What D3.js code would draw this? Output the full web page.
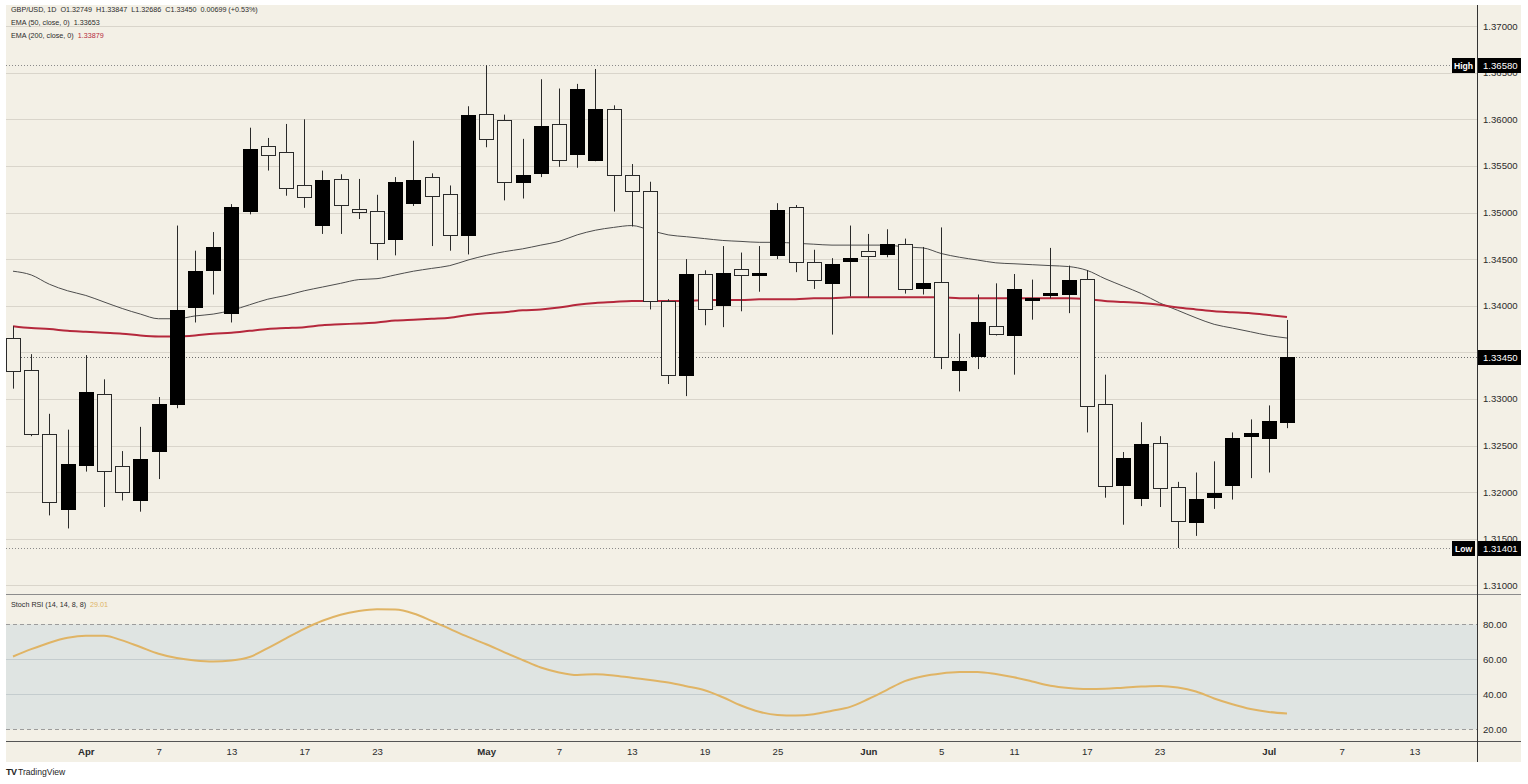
<!DOCTYPE html>
<html>
<head>
<meta charset="utf-8">
<script src="https://cdn.jsdelivr.net/npm/d3@7"></script>
<style>
html, body { margin: 0; padding: 0; background: #ffffff; }
svg { display: block; font-family: "Liberation Sans", Arial, sans-serif; }
</style>
</head>
<body>
<svg id="chart" width="1528" height="784"></svg>
<script>
"use strict";

// daily bars, GBP/USD
const dates = [
    "2026-03-26","2026-03-27","2026-03-30","2026-03-31",
    "2026-04-01","2026-04-02","2026-04-03","2026-04-06","2026-04-07","2026-04-08","2026-04-09","2026-04-10",
    "2026-04-13","2026-04-14","2026-04-15","2026-04-16","2026-04-17","2026-04-20","2026-04-21","2026-04-22",
    "2026-04-23","2026-04-24","2026-04-27","2026-04-28","2026-04-29","2026-04-30",
    "2026-05-01","2026-05-04","2026-05-05","2026-05-06","2026-05-07","2026-05-08","2026-05-11","2026-05-12",
    "2026-05-13","2026-05-14","2026-05-15","2026-05-18","2026-05-19","2026-05-20","2026-05-21","2026-05-22",
    "2026-05-25","2026-05-26","2026-05-27","2026-05-28","2026-05-29",
    "2026-06-01","2026-06-02","2026-06-03","2026-06-04","2026-06-05","2026-06-08","2026-06-09","2026-06-10",
    "2026-06-11","2026-06-12","2026-06-15","2026-06-16","2026-06-17","2026-06-18","2026-06-19","2026-06-22",
    "2026-06-23","2026-06-24","2026-06-25","2026-06-26","2026-06-29","2026-06-30",
    "2026-07-01","2026-07-02"
];
const open = [
    1.3365, 1.3331, 1.3262, 1.3182, 1.3229, 1.3305, 1.3228, 1.3192, 1.3244, 1.3294,
    1.3398, 1.3438, 1.3392, 1.3502, 1.3571, 1.3565, 1.3530, 1.3487, 1.3536, 1.3504,
    1.3502, 1.3472, 1.3510, 1.3538, 1.3520, 1.3476, 1.3606, 1.3599, 1.3533, 1.3543,
    1.3595, 1.3563, 1.3556, 1.3611, 1.3540, 1.3523, 1.3405, 1.3326, 1.3434, 1.3401,
    1.3439, 1.3433, 1.3455, 1.3506, 1.3447, 1.3425, 1.3448, 1.3459, 1.3455, 1.3466,
    1.3419, 1.3425, 1.3331, 1.3346, 1.3378, 1.3369, 1.3406, 1.3412, 1.3413, 1.3429,
    1.3295, 1.3208, 1.3194, 1.3253, 1.3205, 1.3168, 1.3195, 1.3208, 1.3260, 1.3258,
    1.32749
];
const high = [
    1.3378, 1.3348, 1.3284, 1.3267, 1.3347, 1.3321, 1.3244, 1.3270, 1.3302, 1.3486,
    1.3459, 1.3479, 1.3509, 1.3591, 1.3580, 1.3595, 1.3600, 1.3545, 1.3541, 1.3536,
    1.3519, 1.3538, 1.3577, 1.3542, 1.3529, 1.3614, 1.3658, 1.3605, 1.3579, 1.3643,
    1.3633, 1.3638, 1.3654, 1.3615, 1.3552, 1.3533, 1.3407, 1.3450, 1.3438, 1.3464,
    1.3457, 1.3464, 1.3510, 1.3508, 1.3460, 1.3451, 1.3486, 1.3477, 1.3482, 1.3472,
    1.3463, 1.3484, 1.3370, 1.3412, 1.3424, 1.3434, 1.3428, 1.3462, 1.3443, 1.3438,
    1.3326, 1.3243, 1.3275, 1.3260, 1.3211, 1.3221, 1.3233, 1.3264, 1.3278, 1.3293,
    1.33847
];
const low = [
    1.3311, 1.3260, 1.3175, 1.3161, 1.3222, 1.3184, 1.3191, 1.3179, 1.3214, 1.3290,
    1.3382, 1.3412, 1.3382, 1.3498, 1.3545, 1.3518, 1.3505, 1.3477, 1.3477, 1.3493,
    1.3449, 1.3454, 1.3507, 1.3464, 1.3459, 1.3455, 1.3570, 1.3513, 1.3515, 1.3538,
    1.3549, 1.3548, 1.3555, 1.3501, 1.3485, 1.3396, 1.3316, 1.3303, 1.3379, 1.3377,
    1.3394, 1.3415, 1.3450, 1.3436, 1.3418, 1.3369, 1.3410, 1.3409, 1.3452, 1.3413,
    1.3412, 1.3332, 1.3308, 1.3332, 1.3368, 1.3326, 1.3385, 1.3408, 1.3392, 1.3264,
    1.3194, 1.3165, 1.3185, 1.3184, 1.3140, 1.3153, 1.3182, 1.3192, 1.3215, 1.3221,
    1.32686
];
const close = [
    1.3330, 1.3262, 1.3189, 1.3230, 1.3307, 1.3222, 1.3200, 1.3236, 1.3294, 1.3395,
    1.3437, 1.3463, 1.3506, 1.3568, 1.3561, 1.3526, 1.3517, 1.3535, 1.3508, 1.3501,
    1.3468, 1.3533, 1.3535, 1.3518, 1.3476, 1.3605, 1.3579, 1.3532, 1.3540, 1.3593,
    1.3556, 1.3633, 1.3611, 1.3540, 1.3523, 1.3405, 1.3326, 1.3434, 1.3396, 1.3435,
    1.3433, 1.3435, 1.3503, 1.3447, 1.3428, 1.3445, 1.3451, 1.3454, 1.3466, 1.3418,
    1.3424, 1.3344, 1.3341, 1.3382, 1.3369, 1.3418, 1.3408, 1.3414, 1.3428, 1.3293,
    1.3207, 1.3237, 1.3252, 1.3205, 1.3169, 1.3193, 1.3199, 1.3258, 1.3263, 1.3276,
    1.33450
];
const ema50 = [
    1.3437, 1.3433, 1.3423, 1.3416, 1.3411, 1.3404, 1.3397, 1.3391, 1.3386, 1.3386,
    1.3389, 1.3391, 1.3395, 1.3401, 1.3407, 1.3411, 1.3416, 1.3420, 1.3424, 1.3428,
    1.3429, 1.3433, 1.3437, 1.3440, 1.3443, 1.3449, 1.3454, 1.3458, 1.3461, 1.3465,
    1.3469, 1.3476, 1.3481, 1.3484, 1.3486, 1.3481, 1.3476, 1.3474, 1.3472, 1.3470,
    1.3469, 1.3468, 1.3468, 1.3467, 1.3466, 1.3465, 1.3465, 1.3465, 1.3465, 1.3463,
    1.3462, 1.3456, 1.3452, 1.3449, 1.3446, 1.3445, 1.3444, 1.3443, 1.3442, 1.3438,
    1.3429, 1.3421, 1.3413, 1.3403, 1.3395, 1.3387, 1.3380, 1.3376, 1.3372, 1.3368,
    1.33653
];
const ema200 = [
    1.3378, 1.3376, 1.3375, 1.3373, 1.3372, 1.3371, 1.3370, 1.3368, 1.3367, 1.3367,
    1.3368, 1.3370, 1.3371, 1.3373, 1.3375, 1.3376, 1.3377, 1.3379, 1.3380, 1.3381,
    1.3382, 1.3384, 1.3385, 1.3386, 1.3387, 1.3390, 1.3392, 1.3393, 1.3395, 1.3396,
    1.3398, 1.3401, 1.3403, 1.3404, 1.3405, 1.3405, 1.3405, 1.3405, 1.3406, 1.3406,
    1.3406, 1.3407, 1.3407, 1.3407, 1.3408, 1.3408, 1.3409, 1.3409, 1.3409, 1.3409,
    1.3409, 1.3409, 1.3408, 1.3408, 1.3408, 1.3408, 1.3408, 1.3408, 1.3408, 1.3407,
    1.3405, 1.3404, 1.3403, 1.3401, 1.3398, 1.3396, 1.3394, 1.3393, 1.3392, 1.3390,
    1.33879
];
const stochK = [
    61.6, 65.8, 69.5, 72.3, 73.5, 73.4, 70.8, 67.0, 63.2, 60.7,
    59.3, 58.7, 59.3, 61.3, 66.4, 72.0, 77.4, 82.0, 85.5, 87.6,
    88.6, 88.4, 86.2, 82.0, 77.4, 72.8, 68.6, 64.0, 59.6, 55.3,
    52.5, 51.0, 51.5, 50.8, 49.4, 48.2, 46.7, 44.6, 42.3, 38.3,
    33.6, 30.0, 28.2, 27.9, 28.6, 30.6, 32.8, 37.3, 42.4, 47.5,
    50.3, 51.9, 52.7, 52.8, 51.6, 49.7, 47.3, 44.9, 43.6, 43.0,
    43.2, 43.8, 44.4, 44.8, 43.9, 41.6, 37.6, 34.3, 31.6, 29.9,
    29.01
];

const priceTicks = [1.31, 1.315, 1.32, 1.325, 1.33, 1.335, 1.34, 1.345, 1.35, 1.355, 1.36, 1.365, 1.37];
const stochTicks = [20, 40, 60, 80];
const timeTicks = [
    "2026-04-01","2026-04-07","2026-04-13","2026-04-17","2026-04-23",
    "2026-05-01","2026-05-07","2026-05-13","2026-05-19","2026-05-25",
    "2026-06-01","2026-06-05","2026-06-11","2026-06-17","2026-06-23",
    "2026-07-01","2026-07-07","2026-07-13"
];
const sessionHigh = 1.36580;
const sessionLow = 1.31401;
const lastPrice = 1.33450;

const BG = "#f3f0e6";
const GRID = "#d9d5cb";
const TEXT = "#2b2b2b";
const RED = "#b5283c";
const STOCH = "#e0b465";

const svg = d3.select("#chart");
const paneLeft = 6, axisX = 1477, paneRight = 1521, paneTop = 5;
const paneSep = 594, stochBottom = 741, timeBottom = 762;

const parse = d3.utcParse("%Y-%m-%d");
const start = parse(dates[0]);
const barIndex = s => d3.utcDay.range(start, parse(s)).filter(d => d.getUTCDay() % 6 !== 0).length;

const x = d3.scaleLinear().domain([-0.385, 80.44]).range([paneLeft, axisX]);
const y = d3.scaleLinear().domain([1.31, 1.37]).range([585.3, 26.1]);
const yS = d3.scaleLinear().domain([20, 80]).range([729.3, 624.3]);

const defs = svg.append("defs");
defs.append("clipPath").attr("id", "clipMain")
    .append("rect").attr("x", paneLeft).attr("y", paneTop).attr("width", axisX - paneLeft).attr("height", paneSep - paneTop);
defs.append("clipPath").attr("id", "clipStoch")
    .append("rect").attr("x", paneLeft).attr("y", paneSep + 1).attr("width", axisX - paneLeft).attr("height", stochBottom - paneSep - 1);

// background
svg.append("rect").attr("x", paneLeft).attr("y", paneTop).attr("width", paneRight - paneLeft).attr("height", timeBottom - paneTop).attr("fill", BG);

// price grid
svg.append("g").selectAll("line").data(priceTicks).join("line")
    .attr("x1", paneLeft).attr("x2", axisX)
    .attr("y1", d => Math.round(y(d)) + 0.5).attr("y2", d => Math.round(y(d)) + 0.5)
    .attr("stroke", GRID).attr("stroke-width", 1);

// high / low / last dotted lines
const refLines = [
    {v: sessionHigh, x2: 1452, c: "#8a8a8a"},
    {v: sessionLow, x2: 1452, c: "#8a8a8a"},
    {v: lastPrice, x2: axisX, c: "#6a6a6a"}
];
svg.append("g").selectAll("line").data(refLines).join("line")
    .attr("x1", paneLeft).attr("x2", d => d.x2)
    .attr("y1", d => Math.round(y(d.v)) + 0.5).attr("y2", d => Math.round(y(d.v)) + 0.5)
    .attr("stroke", d => d.c).attr("stroke-width", 1).attr("stroke-dasharray", "1,2");

const candles = dates.map((d, i) => ({i, o: open[i], h: high[i], l: low[i], c: close[i]}));

const main = svg.append("g").attr("clip-path", "url(#clipMain)");

// EMA lines
const emaLine = d3.line().x((d, i) => x(i)).y(d => y(d)).curve(d3.curveMonotoneX);
main.append("path").attr("d", emaLine(ema50)).attr("fill", "none").attr("stroke", "#4d4d4d").attr("stroke-width", 1);
main.append("path").attr("d", emaLine(ema200)).attr("fill", "none").attr("stroke", RED).attr("stroke-width", 2);

// candles: black = up, hollow = down
const cg = main.append("g").selectAll("g").data(candles).join("g");
cg.append("line")
    .attr("x1", d => Math.round(x(d.i)) + 0.5).attr("x2", d => Math.round(x(d.i)) + 0.5)
    .attr("y1", d => y(d.h)).attr("y2", d => y(d.l))
    .attr("stroke", "#2a2a2a").attr("stroke-width", 1);
cg.append("rect")
    .attr("x", d => Math.round(x(d.i)) - 6.5)
    .attr("width", 14)
    .attr("y", d => Math.round(y(Math.max(d.o, d.c))) + 0.5)
    .attr("height", d => Math.max(1, Math.round(Math.abs(y(d.o) - y(d.c)))))
    .attr("fill", d => d.c >= d.o ? "#000000" : BG)
    .attr("stroke", d => d.c >= d.o ? "#000000" : "#2a2a2a")
    .attr("stroke-width", 1);

// stoch pane
const stoch = svg.append("g").attr("clip-path", "url(#clipStoch)");
stoch.append("rect").attr("x", paneLeft).attr("width", axisX - paneLeft)
    .attr("y", yS(80)).attr("height", yS(20) - yS(80)).attr("fill", "#dfe4e2");
stoch.append("g").selectAll("line").data(stochTicks).join("line")
    .attr("x1", paneLeft).attr("x2", axisX)
    .attr("y1", d => Math.round(yS(d)) + 0.5).attr("y2", d => Math.round(yS(d)) + 0.5)
    .attr("stroke", d => (d === 20 || d === 80) ? "#9c9c9c" : "#c4ccce")
    .attr("stroke-dasharray", d => (d === 20 || d === 80) ? "4,3" : null);
const stochLine = d3.line().x((d, i) => x(i)).y(d => yS(d)).curve(d3.curveMonotoneX);
stoch.append("path").attr("d", stochLine(stochK)).attr("fill", "none").attr("stroke", STOCH).attr("stroke-width", 2);

// frame lines
svg.append("line").attr("x1", paneLeft).attr("x2", paneRight).attr("y1", paneSep + 0.5).attr("y2", paneSep + 0.5).attr("stroke", "#8c8c8c");
svg.append("line").attr("x1", paneLeft).attr("x2", paneRight).attr("y1", stochBottom + 0.5).attr("y2", stochBottom + 0.5).attr("stroke", "#555");
svg.append("line").attr("x1", axisX + 0.5).attr("x2", axisX + 0.5).attr("y1", paneTop).attr("y2", timeBottom).attr("stroke", "#333");

// price axis
const fmtP = d3.format(".5f");
const pAxis = svg.append("g").attr("transform", `translate(${axisX},0)`)
    .call(d3.axisRight(y).tickValues(priceTicks).tickFormat(fmtP).tickSize(0).tickPadding(6));
pAxis.select(".domain").remove();
pAxis.selectAll("text").attr("fill", TEXT).attr("font-size", 9.6).attr("font-family", "Liberation Sans, Arial, sans-serif");

const sAxis = svg.append("g").attr("transform", `translate(${axisX},0)`)
    .call(d3.axisRight(yS).tickValues(stochTicks).tickFormat(d3.format(".2f")).tickSize(0).tickPadding(6));
sAxis.select(".domain").remove();
sAxis.selectAll("text").attr("fill", TEXT).attr("font-size", 9.6).attr("font-family", "Liberation Sans, Arial, sans-serif");

// time axis
const fmtMonth = d3.utcFormat("%b"), fmtDay = d3.utcFormat("%-d");
const tAxis = svg.append("g").attr("transform", `translate(0,${stochBottom})`)
    .call(d3.axisBottom(x).tickValues(timeTicks.map(barIndex))
        .tickFormat((v, k) => { const d = parse(timeTicks[k]); return d.getUTCDate() === 1 ? fmtMonth(d) : fmtDay(d); })
        .tickSize(0).tickPadding(7));
tAxis.select(".domain").remove();
tAxis.selectAll("text").attr("fill", TEXT).attr("font-size", 9.6)
    .attr("font-family", "Liberation Sans, Arial, sans-serif")
    .attr("font-weight", (v, k) => parse(timeTicks[k]).getUTCDate() === 1 ? "bold" : "normal");

// price badges
const badges = [
    {v: sessionHigh, tag: "High"},
    {v: lastPrice, tag: null},
    {v: sessionLow, tag: "Low"}
];
const bg = svg.append("g").selectAll("g").data(badges).join("g")
    .attr("transform", d => `translate(0,${Math.round(y(d.v))})`);
bg.append("rect").attr("x", axisX + 1).attr("y", -7).attr("width", paneRight - axisX - 1).attr("height", 15).attr("fill", "#000");
bg.append("text").attr("x", axisX + 6).attr("y", 0.5).attr("dy", "0.35em")
    .attr("fill", "#fff").attr("font-size", 9.6).text(d => fmtP(d.v));
const tagged = bg.filter(d => d.tag);
tagged.append("rect").attr("x", 1452).attr("y", -7).attr("width", 23).attr("height", 15).attr("fill", "#000");
tagged.append("text").attr("x", 1463.5).attr("y", 0.5).attr("dy", "0.35em").attr("text-anchor", "middle")
    .attr("fill", "#fff").attr("font-size", 8.6).attr("font-weight", "bold").text(d => d.tag);

// legends
const legend = svg.append("g").attr("font-size", 7.2).attr("fill", TEXT);
legend.append("text").attr("x", 11).attr("y", 12).style("white-space", "pre")
    .text("GBP/USD, 1D  O1.32749  H1.33847  L1.32686  C1.33450  0.00699 (+0.53%)");
const l2 = legend.append("text").attr("x", 11).attr("y", 25).style("white-space", "pre");
l2.append("tspan").text("EMA (50, close, 0)  ");
l2.append("tspan").text(d3.format(".5f")(ema50[ema50.length - 1]));
const l3 = legend.append("text").attr("x", 11).attr("y", 38).style("white-space", "pre");
l3.append("tspan").text("EMA (200, close, 0)  ");
l3.append("tspan").attr("fill", RED).text(d3.format(".5f")(ema200[ema200.length - 1]));
const l4 = legend.append("text").attr("x", 11).attr("y", 607).style("white-space", "pre");
l4.append("tspan").text("Stoch RSI (14, 14, 8, 8)  ");
l4.append("tspan").attr("fill", STOCH).text(d3.format(".2f")(stochK[stochK.length - 1]));

// footer logo
const logo = svg.append("g").attr("fill", "#1e1e1e");
logo.append("text").attr("x", 6).attr("y", 775).attr("font-size", 9).attr("font-weight", "bold").attr("letter-spacing", -0.5).text("TV");
logo.append("text").attr("x", 18).attr("y", 775).attr("font-size", 8.6).text("TradingView");
</script>
</body>
</html>
